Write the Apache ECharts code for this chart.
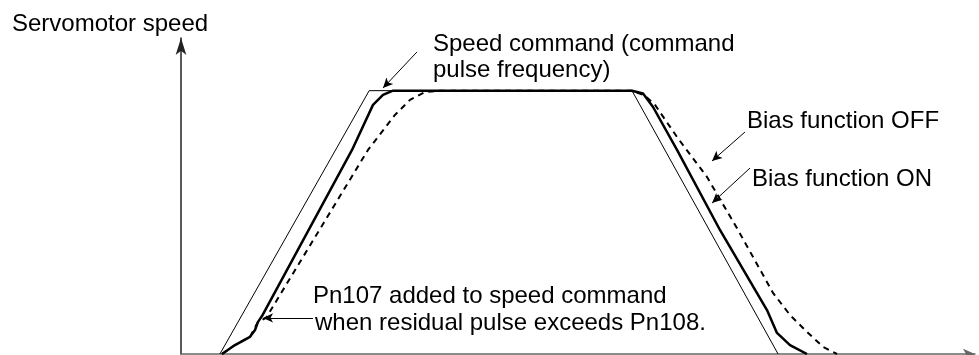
<!DOCTYPE html>
<html>
<head>
    <meta charset="utf-8">
    <title>Servomotor speed - bias function</title>
    <script src="https://cdn.jsdelivr.net/npm/echarts@6/dist/echarts.min.js"></script>
    <style>
        html, body {margin: 0; padding: 0; background: #fff;}
        #main {width: 979px; height: 355px;}
    </style>
</head>
<body>
<div id="main"></div>
<script>
    // time axis 0..100, speed axis 0..120 (plateau = 100)
    var commandT = [4.9, 23.7, 56.8, 75.2];
    var commandV = [0, 100, 100, 0];

    var biasOnT = [5.16, 6.8, 8.69, 9.32, 9.7, 10.2, 21.54, 24.18, 25.44, 26.7, 56.8, 58.19, 59.45, 62.47, 67.88, 73.8, 75.06, 76.7, 78.84];
    var biasOnV = [0, 3.4, 6.5, 9.1, 12.2, 14.4, 77.5, 94.6, 98.4, 100, 100, 98.9, 93.8, 77.5, 47.1, 16.7, 8.0, 3.4, 0];

    var biasOffT = [5.16, 6.8, 8.69, 9.7, 10.71, 23.55, 26.95, 28.84, 30.73, 32.62, 56.8, 58.44, 59.7, 62.47, 66.25, 70.15, 74.56, 76.7, 78.84, 80.86, 82.62];
    var biasOffV = [0, 3.4, 6.5, 12.2, 13.7, 77.5, 90.8, 96.5, 99.5, 100, 100, 98.1, 94.6, 82.4, 67.2, 47.1, 23.2, 14.8, 8.4, 2.7, 0];

    // callout arrows: [tailT, tailV, tipT, tipV]
    var arrowCommand = [29.72, 114.7, 25.44, 101.0];
    var arrowOff = [71.03, 84.3, 66.88, 73.3];
    var arrowOn = [71.66, 70.6, 66.88, 57.3];
    var arrowPn107 = [16.62, 13.7, 10.33, 13.7];

    function pairs(t, v) {
        var out = [];
        for (var i = 0; i < t.length; i++) out.push([t[i], v[i]]);
        return out;
    }

    function arrow(a) {
        return [{coord: [a[0], a[1]], symbol: 'none'}, {coord: [a[2], a[3]], symbol: 'arrow'}];
    }

    var FONT = '24px "Liberation Sans", Arial, sans-serif';

    function label(text, x, y) {
        return {
            type: 'text', x: x, y: y,
            style: {text: text, font: FONT, fill: '#000', verticalAlign: 'middle'}
        };
    }

    var chart = echarts.init(document.getElementById('main'), null, {renderer: 'canvas'});

    var option = {
        animation: false,
        backgroundColor: '#fff',
        grid: {left: 181, right: 4, top: 38, bottom: 1},
        xAxis: {
            type: 'value', min: 0, max: 100,
            axisLine: {show: true, symbol: ['none', 'arrow'], symbolSize: [8, 12], lineStyle: {color: '#666', width: 1.5}},
            axisTick: {show: false}, axisLabel: {show: false}, splitLine: {show: false}
        },
        yAxis: {
            type: 'value', min: 0, max: 120,
            axisLine: {show: true, symbol: ['none', 'arrow'], symbolSize: [8, 17], lineStyle: {color: '#222', width: 1.5}},
            axisTick: {show: false}, axisLabel: {show: false}, splitLine: {show: false}
        },
        series: [
            {
                name: 'Speed command', type: 'line', data: pairs(commandT, commandV),
                symbol: 'none', lineStyle: {color: '#000', width: 1},
                markLine: {
                    silent: true, animation: false,
                    symbolSize: [7, 10],
                    label: {show: false},
                    lineStyle: {color: '#000', width: 1, type: 'solid'},
                    data: [arrow(arrowCommand), arrow(arrowOff), arrow(arrowOn), arrow(arrowPn107)]
                }
            },
            {
                name: 'Bias function OFF', type: 'line', data: pairs(biasOffT, biasOffV),
                symbol: 'none', lineStyle: {color: '#000', width: 2, type: [6, 5]}
            },
            {
                name: 'Bias function ON', type: 'line', data: pairs(biasOnT, biasOnV),
                symbol: 'none', lineStyle: {color: '#000', width: 2.5}
            }
        ],
        graphic: [
            label('Servomotor speed', 12, 24),
            label('Speed command (command', 433, 44),
            label('pulse frequency)', 433, 70),
            label('Bias function OFF', 747, 121),
            label('Bias function ON', 752, 179),
            label('Pn107 added to speed command', 313, 296),
            label('when residual pulse exceeds Pn108.', 315, 323)
        ]
    };

    chart.setOption(option);
</script>
</body>
</html>
